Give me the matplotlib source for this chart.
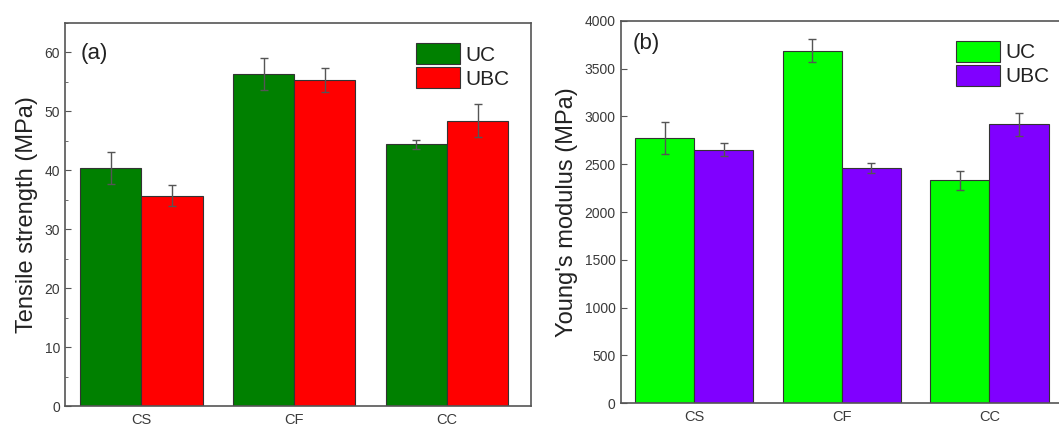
import matplotlib
matplotlib.use("Agg")
import matplotlib.pyplot as plt
import numpy as np

plt.rcParams['font.family'] = ['Liberation Sans', 'DejaVu Sans']

groups = ['CS', 'CF', 'CC']
series = ['UC', 'UBC']

tensile_uc = [40.4, 56.3, 44.4]
tensile_uc_err = [2.7, 2.7, 0.8]
tensile_ubc = [35.7, 55.3, 48.4]
tensile_ubc_err = [1.8, 2.0, 2.8]

modulus_uc = [2772, 3687, 2330]
modulus_uc_err = [167, 120, 100]
modulus_ubc = [2651, 2459, 2915]
modulus_ubc_err = [70, 52, 125]

fig = plt.figure(figsize=(10.59, 4.29), dpi=100)
ax1 = fig.add_axes([0.0614, 0.0536, 0.44, 0.8927])
ax2 = fig.add_axes([0.586, 0.0599, 0.425, 0.8918])

x = np.arange(1, len(groups) + 1)
w = 0.4
spine_c = '#555555'
text_c = '#3a3a3a'


def panel(ax, uc, uc_err, ubc, ubc_err, colors, ylim, yticks, ylabel, tag, tag_xy, minor):
    ekw = dict(ecolor='#555555', elinewidth=1.0, capsize=3, capthick=1.0)
    ax.bar(x - w / 2, uc, w, yerr=uc_err, color=colors[0], edgecolor='#333333',
           linewidth=0.8, label=series[0], error_kw=ekw)
    ax.bar(x + w / 2, ubc, w, yerr=ubc_err, color=colors[1], edgecolor='#333333',
           linewidth=0.8, label=series[1], error_kw=ekw)
    ax.set_xlim(0.5, 3.55)
    ax.set_ylim(*ylim)
    ax.set_yticks(yticks)
    if minor is not None:
        ax.set_yticks(minor, minor=True)
    ax.set_xticks(x)
    ax.set_xticklabels(groups)
    ax.tick_params(axis='y', which='both', direction='in', colors=spine_c,
                   labelcolor=text_c, labelsize=10)
    ax.tick_params(axis='y', which='major', length=4)
    ax.tick_params(axis='y', which='minor', length=2.5)
    ax.tick_params(axis='x', length=0, labelsize=10.5, labelcolor=text_c, pad=5)
    for s in ax.spines.values():
        s.set_color(spine_c)
        s.set_linewidth(1.2)
    ax.set_ylabel(ylabel, fontsize=17, color='#222222', labelpad=5)
    ax.text(tag_xy[0], tag_xy[1], tag, transform=ax.transAxes, fontsize=16,
            color='#222222', va='center')
    leg = ax.legend(loc='upper right', bbox_to_anchor=(0.985, 0.985), frameon=False,
                    fontsize=15, handlelength=2.1, handleheight=1.15,
                    labelspacing=0.12, handletextpad=0.25, borderaxespad=0.3)
    for t in leg.get_texts():
        t.set_color('#222222')


panel(ax1, tensile_uc, tensile_uc_err, tensile_ubc, tensile_ubc_err,
      ['#008000', '#ff0000'], (0, 65), np.arange(0, 61, 10),
      'Tensile strength (MPa)', '(a)', (0.034, 0.92), np.arange(5, 66, 10))
panel(ax2, modulus_uc, modulus_uc_err, modulus_ubc, modulus_ubc_err,
      ['#00ff00', '#8000ff'], (0, 4000), np.arange(0, 4001, 500),
      "Young's modulus (MPa)", '(b)', (0.027, 0.94), None)

fig.savefig('out.png', dpi=100)
